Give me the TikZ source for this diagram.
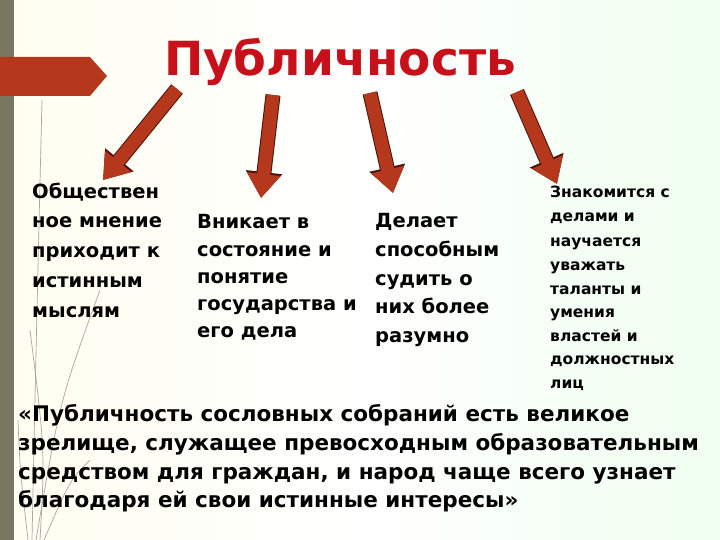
\documentclass[tikz,border=0pt]{standalone}
\usepackage{fontspec}
\setmainfont{DejaVu Sans}
\usetikzlibrary{arrows.meta}
\definecolor{rust}{HTML}{B5381C}
\definecolor{title}{HTML}{C8101A}
\definecolor{barc}{HTML}{7A7662}
\tikzset{
  bigarrow/.style={line width=13pt, rust, -{Triangle[width=32pt,length=24pt]}},
  txt/.style={anchor=base west, inner sep=0pt, font=\bfseries\fontsize{19.5}{19.5}\selectfont},
  small/.style={anchor=base west, inner sep=0pt, font=\bfseries\fontsize{15.5}{15.5}\selectfont},
  quote/.style={anchor=base west, inner sep=0pt, font=\bfseries\fontsize{21.5}{21.5}\selectfont},
  grass/.style={draw=gray!70, line width=0.7pt}
}
\begin{document}
\begin{tikzpicture}[x=1pt,y=-1pt]
\shade[left color=black!8!yellow!6, right color=green!6!white, middle color=white] (0,0) rectangle (720,540);
\useasboundingbox (0,0) rectangle (720,540);
\fill[barc] (0,0) rectangle (14,540);
\fill[rust] (0,57) -- (90,57) -- (107,76) -- (90,96) -- (0,96) -- cycle;
% grass
\draw[grass] (32,540) .. controls (36,350) .. (42,100);
\draw[grass] (36,540) .. controls (60,400) .. (100,290);
\draw[grass] (40,540) .. controls (45,450) .. (30,330);
\draw[grass] (28,540) .. controls (20,470) .. (18,420);
\draw[grass] (44,540) .. controls (70,480) .. (90,460);
% title
\node (t) [inner sep=0pt, text=title, font=\bfseries\fontsize{47}{47}\selectfont] at (340,62) {Публичность};
% arrows
\coordinate (a1s) at (177,89); \coordinate (a1e) at (103,180);
\coordinate (a2s) at (273,95); \coordinate (a2e) at (261,198);
\coordinate (a3s) at (370,93); \coordinate (a3e) at (393,193);
\coordinate (a4s) at (517,92); \coordinate (a4e) at (557,184);
\foreach \s/\e in {a1s/a1e,a2s/a2e,a3s/a3e,a4s/a4e}{
  \draw[bigarrow, black!60!rust, line width=15pt, -{Triangle[width=35pt,length=26pt]}] (\s) -- (\e);
  \draw[bigarrow] (\s) -- (\e);
}
% column 1
\node (c1a) [txt] at (32,199) {Обществен};
\node (c1b) [txt] at (32,228) {ное мнение};
\node (c1c) [txt] at (32,257) {приходит к};
\node (c1d) [txt] at (32,287) {истинным};
\node (c1e) [txt] at (32,317) {мыслям};
% column 2
\node (c2a) [txt] at (197,229) {Вникает в};
\node (c2b) [txt] at (197,256) {состояние и};
\node (c2c) [txt] at (197,283) {понятие};
\node (c2d) [txt] at (197,310) {государства и};
\node (c2e) [txt] at (197,337) {его дела};
% column 3
\node (c3a) [txt] at (375,227) {Делает};
\node (c3b) [txt] at (375,256) {способным};
\node (c3c) [txt] at (375,285) {судить о};
\node (c3d) [txt] at (375,313) {них более};
\node (c3e) [txt] at (375,342) {разумно};
% column 4
\node (c4a) [small] at (550,198) {Знакомится с};
\node (c4b) [small] at (550,222) {делами и};
\node (c4c) [small] at (550,246) {научается};
\node (c4d) [small] at (550,270) {уважать};
\node (c4e) [small] at (550,294) {таланты и};
\node (c4f) [small] at (550,317) {умения};
\node (c4g) [small] at (550,341) {властей и};
\node (c4h) [small] at (550,364) {должностных};
\node (c4i) [small] at (550,388) {лиц};
% quote
\node (q1) [quote] at (18,421) {«Публичность сословных собраний есть великое};
\node (q2) [quote] at (18,450) {зрелище, служащее превосходным образовательным};
\node (q3) [quote] at (18,479) {средством для граждан, и народ чаще всего узнает};
\node (q4) [quote] at (18,507) {благодаря ей свои истинные интересы»};
\end{tikzpicture}
\end{document}
